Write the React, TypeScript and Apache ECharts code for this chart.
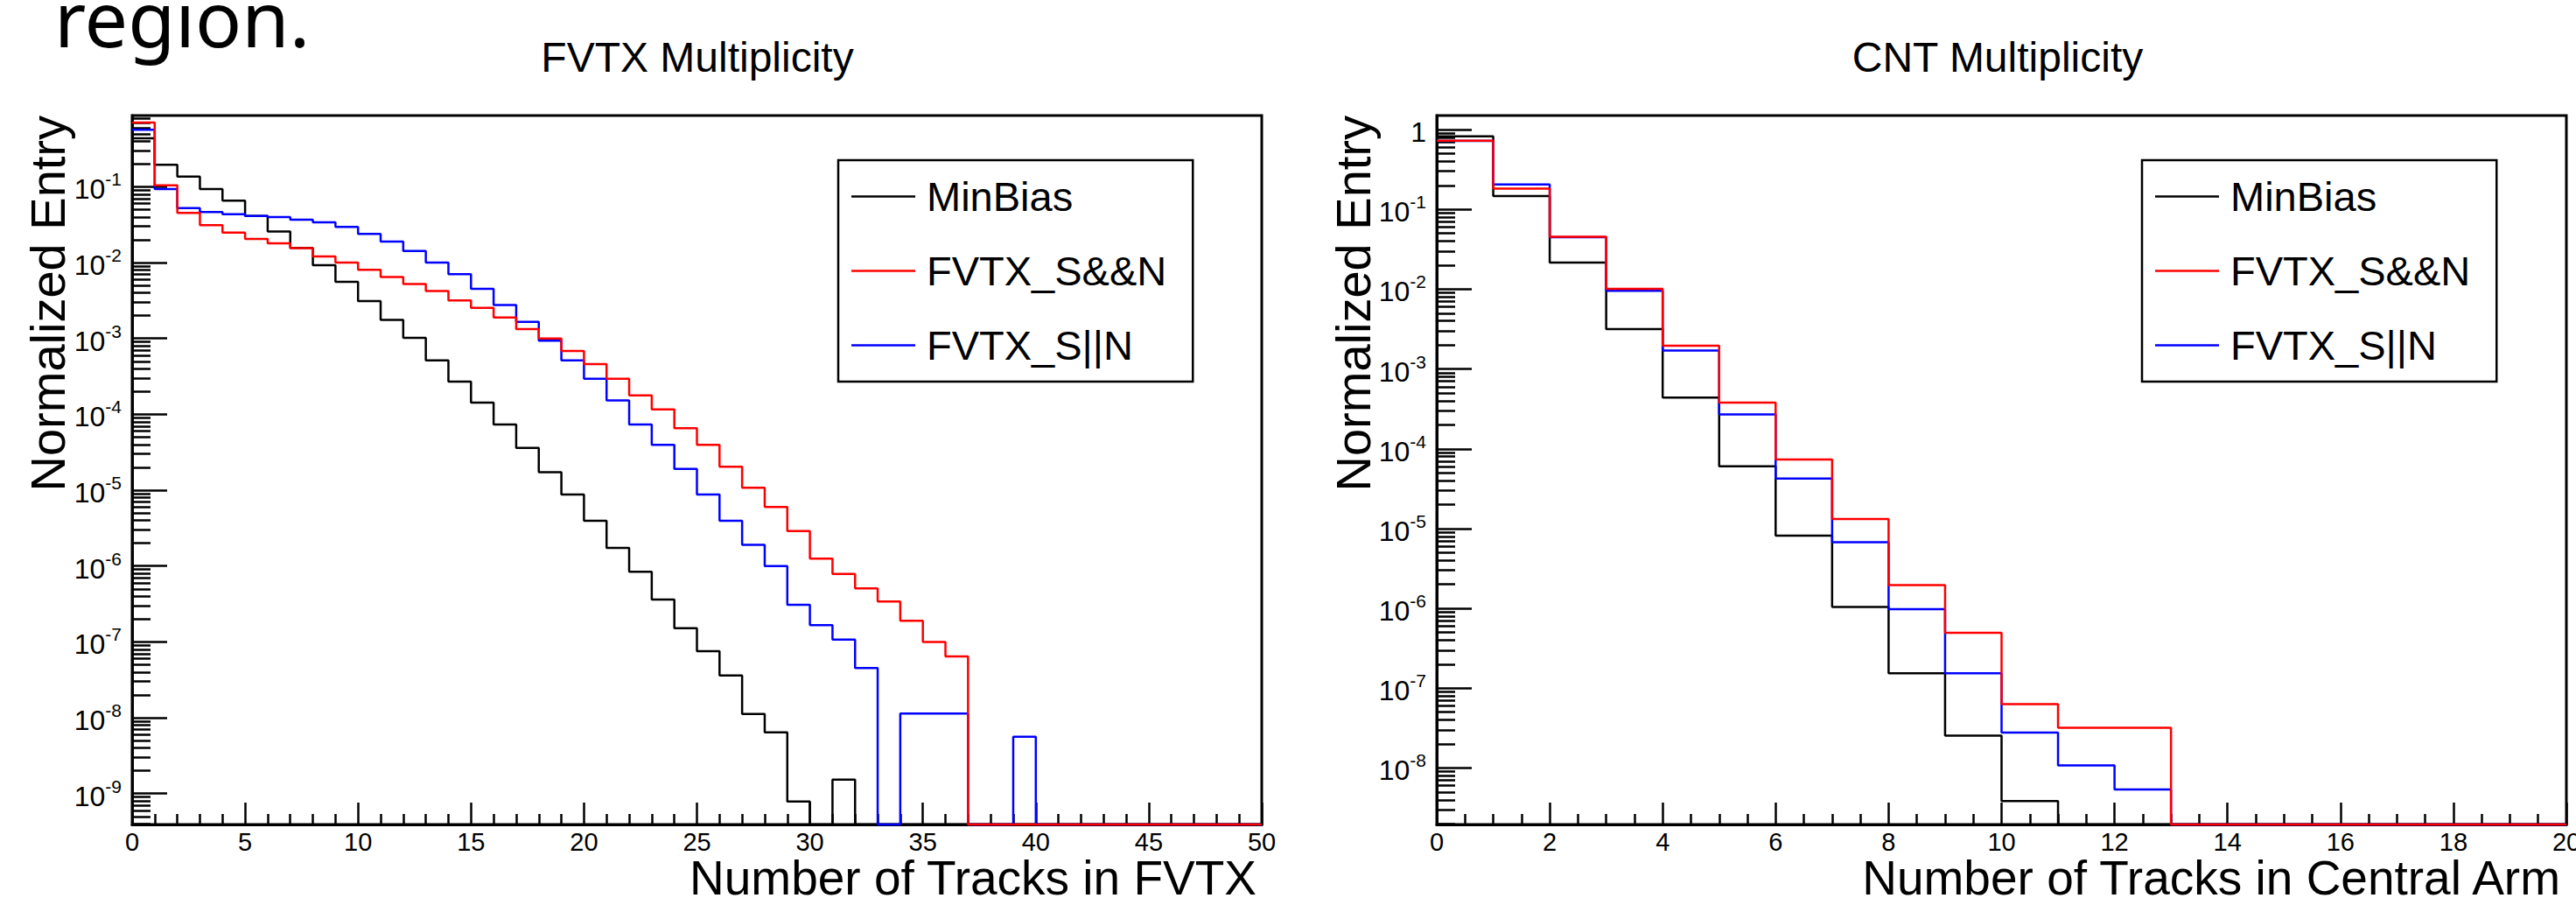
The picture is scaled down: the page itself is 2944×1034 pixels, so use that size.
import React, { useEffect, useRef } from "react";
import * as echarts from "echarts";

const FONT = "'Liberation Sans', Arial, Helvetica, sans-serif";

// ---------- Data (normalized entries per bin, bin width 1, first bin at 0) ----------
const seriesNames = ["MinBias", "FVTX_S&&N", "FVTX_S||N"];

// FVTX multiplicity: 50 bins, 0..50
const fvtxMinBias = [
  0.435, 0.1945, 0.1364, 0.0933, 0.0655, 0.0412, 0.0258, 0.0156, 0.00924, 0.00558,
  0.00311, 0.00176, 0.00102, 5.15e-4, 2.7e-4, 1.43e-4, 7.34e-5, 3.61e-5, 1.73e-5, 8.77e-6,
  3.95e-6, 1.73e-6, 8.39e-7, 3.61e-7, 1.52e-7, 7.55e-8, 3.61e-8, 1.12e-8, 6.42e-9, 7.87e-10,
  0, 1.53e-9, 0, 0, 0, 0, 0, 0, 0, 0,
  0, 0, 0, 0, 0, 0, 0, 0, 0, 0,
];
const fvtxSAndN = [
  0.702, 0.1045, 0.0451, 0.0311, 0.0249, 0.0205, 0.01795, 0.01552, 0.01205, 0.01,
  0.00803, 0.00646, 0.00522, 0.00422, 0.00317, 0.002535, 0.00189, 0.00133, 0.001, 6.84e-4,
  4.59e-4, 2.95e-4, 1.78e-4, 1.16e-4, 6.55e-5, 3.95e-5, 2.04e-5, 1.08e-5, 6.0e-6, 2.9e-6,
  1.25e-6, 7.88e-7, 5.07e-7, 3.4e-7, 1.9e-7, 1.0e-7, 6.43e-8, 0, 0, 0,
  0, 0, 0, 0, 0, 0, 0, 0, 0, 0,
];
const fvtxSOrN = [
  0.563, 0.0933, 0.0524, 0.0464, 0.0435, 0.0412, 0.0398, 0.0368, 0.034, 0.0295,
  0.0239, 0.0189, 0.01425, 0.01, 0.00703, 0.00451, 0.00277, 0.00166, 9.33e-4, 5.15e-4,
  2.95e-4, 1.53e-4, 7.34e-5, 3.95e-5, 1.91e-5, 8.77e-6, 3.95e-6, 1.91e-6, 1.0e-6, 3.08e-7,
  1.66e-7, 1.07e-7, 4.52e-8, 0, 1.14e-8, 1.14e-8, 1.14e-8, 0, 0, 5.62e-9,
  0, 0, 0, 0, 0, 0, 0, 0, 0, 0,
];

// CNT multiplicity: 20 bins, 0..20
const cntMinBias = [
  0.823, 0.1465, 0.0216, 0.00316, 4.37e-4, 6.04e-5, 8.18e-6, 1.04e-6, 1.54e-7, 2.55e-8,
  3.84e-9, 0, 0, 0, 0, 0, 0, 0, 0, 0,
];
const cntSAndN = [
  0.726, 0.182, 0.0454, 0.0101, 0.00196, 3.79e-4, 7.33e-5, 1.32e-5, 1.96e-6, 4.95e-7,
  6.3e-8, 3.2e-8, 3.2e-8, 0, 0, 0, 0, 0, 0, 0,
];
const cntSOrN = [
  0.72, 0.205, 0.0448, 0.00955, 0.0017, 2.7e-4, 4.23e-5, 6.76e-6, 9.8e-7, 1.54e-7,
  2.78e-8, 1.08e-8, 5.37e-9, 0, 0, 0, 0, 0, 0, 0,
];

// Axis ranges and ticks
const fvtxXMax = 50;
const cntXMax = 20;
const fvtxYRange = [3.92e-10, 0.869];
const cntYRange = [1.96e-9, 1.5];
const fvtxYMajor = [1e-9, 1e-8, 1e-7, 1e-6, 1e-5, 1e-4, 1e-3, 1e-2, 1e-1];
const cntYMajor = [1e-8, 1e-7, 1e-6, 1e-5, 1e-4, 1e-3, 1e-2, 1e-1, 1];
const minorMultipliers = [2, 3, 4, 5, 6, 7, 8, 9];

// ---------- helpers ----------
function minorTicks(decades: number[], range: number[]) {
  const out: number[] = [];
  const all = [decades[0] / 10, ...decades];
  all.forEach((d) => {
    minorMultipliers.forEach((m) => {
      const v = d * m;
      if (v >= range[0] && v <= range[1]) out.push(v);
    });
  });
  return out;
}

function histPoints(values: number[], floor: number) {
  const pts: [number, number][] = values.map((v, i) => [i, v > 0 ? v : floor]);
  pts.push([values.length, pts[pts.length - 1][1]]);
  return pts;
}

const logLabel = (v: number) => {
  const e = Math.round(Math.log10(v));
  return e === 0 ? "{m|1}" : `{m|10}{e|${e}}`;
};

const black = "#000000";
const red = "#ff0000";
const blue = "#0000ff";

function buildOption() {
  const grids = [
    { left: 151, top: 132, width: 1291, height: 810 },
    { left: 1642, top: 132, width: 1291, height: 810 },
  ].map((g) => ({
    ...g,
    show: true,
    borderColor: black,
    borderWidth: 3,
    backgroundColor: "transparent",
    containLabel: false,
    outerBoundsMode: "none",
  }));

  const tickLine = { color: black, width: 2.5 };

  const xAxis = (gridIndex: number, max: number, interval: number, split: number) => ({
    type: "value",
    gridIndex,
    position: "bottom",
    min: 0,
    max,
    interval,
    axisLine: { show: true, onZero: false, lineStyle: { color: black, width: 3 } },
    axisTick: { show: true, inside: true, length: 25, lineStyle: tickLine },
    minorTick: { show: true, splitNumber: split, length: 12, lineStyle: tickLine },
    axisLabel: {
      show: true,
      fontSize: 29,
      lineHeight: 29,
      color: black,
      fontFamily: FONT,
      margin: 5,
      showMinLabel: true,
      showMaxLabel: true,
      hideOverlap: false,
    },
    splitLine: { show: false },
    minorSplitLine: { show: false },
  });

  const yMajor = (gridIndex: number, range: number[], majors: number[]) => ({
    type: "log",
    logBase: 10,
    gridIndex,
    position: "left",
    min: range[0],
    max: range[1],
    axisLine: { show: true, onZero: false, lineStyle: { color: black, width: 3 } },
    axisTick: { show: true, inside: true, length: 40, lineStyle: tickLine, customValues: majors },
    axisLabel: {
      show: true,
      customValues: majors,
      formatter: logLabel,
      margin: 12,
      color: black,
      fontFamily: FONT,
      hideOverlap: false,
      rich: {
        m: { fontSize: 32, lineHeight: 38, fontFamily: FONT, color: black, verticalAlign: "bottom" },
        e: { fontSize: 21, lineHeight: 19, fontFamily: FONT, color: black, verticalAlign: "top" },
      },
    },
    splitLine: { show: false },
    minorTick: { show: false },
    minorSplitLine: { show: false },
  });

  const yMinor = (gridIndex: number, range: number[], majors: number[]) => ({
    type: "log",
    logBase: 10,
    gridIndex,
    position: "left",
    min: range[0],
    max: range[1],
    axisLine: { show: false },
    axisTick: {
      show: true,
      inside: true,
      length: 21,
      lineStyle: tickLine,
      customValues: minorTicks(majors, range),
    },
    axisLabel: { show: false },
    splitLine: { show: false },
  });

  const hist = (
    name: string,
    values: number[],
    floor: number,
    color: string,
    xi: number,
    yi: number
  ) => ({
    name,
    type: "line",
    xAxisIndex: xi,
    yAxisIndex: yi,
    step: "end",
    data: histPoints(values, floor),
    symbol: "none",
    showSymbol: false,
    clip: false,
    silent: true,
    z: 3,
    lineStyle: { color, width: 2.5 },
    itemStyle: { color },
  });

  const legend = (left: number) => ({
    show: true,
    orient: "vertical",
    left,
    top: 183,
    icon: "rect",
    itemWidth: 73,
    itemHeight: 2.5,
    itemGap: 38,
    padding: [18, 30, 18, 15],
    borderColor: black,
    borderWidth: 2.5,
    backgroundColor: "#ffffff",
    selectedMode: false,
    data: seriesNames,
    textStyle: { fontSize: 47, lineHeight: 47, color: black, fontFamily: FONT, padding: [0, 0, 0, 8] },
  });

  const txt = (
    text: string,
    x: number,
    y: number,
    fontSize: number,
    align: string,
    family = FONT,
    rotation = 0
  ) => ({
    type: "text",
    x,
    y,
    rotation,
    silent: true,
    style: {
      text,
      fontSize,
      fontFamily: family,
      fill: black,
      align,
      verticalAlign: "middle",
      textAlign: align,
      textVerticalAlign: "middle",
    },
  });

  return {
    animation: false,
    backgroundColor: "#ffffff",
    grid: grids,
    xAxis: [xAxis(0, fvtxXMax, 5, 5), xAxis(1, cntXMax, 2, 4)],
    yAxis: [
      yMajor(0, fvtxYRange, fvtxYMajor),
      yMinor(0, fvtxYRange, fvtxYMajor),
      yMajor(1, cntYRange, cntYMajor),
      yMinor(1, cntYRange, cntYMajor),
    ],
    legend: [legend(958), legend(2448)],
    series: [
      hist(seriesNames[0], fvtxMinBias, fvtxYRange[0], black, 0, 0),
      hist(seriesNames[2], fvtxSOrN, fvtxYRange[0], blue, 0, 0),
      hist(seriesNames[1], fvtxSAndN, fvtxYRange[0], red, 0, 0),
      hist(seriesNames[0], cntMinBias, cntYRange[0], black, 1, 2),
      hist(seriesNames[2], cntSOrN, cntYRange[0], blue, 1, 2),
      hist(seriesNames[1], cntSAndN, cntYRange[0], red, 1, 2),
    ],
    graphic: [
      txt("region.", 62, 20, 88, "left", "'Noto Sans', sans-serif"),
      txt("FVTX Multiplicity", 797, 65, 48, "center"),
      txt("CNT Multiplicity", 2283, 65, 48, "center"),
      txt("Normalized Entry", 54, 132, 56, "right", FONT, Math.PI / 2),
      txt("Normalized Entry", 1546, 132, 56, "right", FONT, Math.PI / 2),
      txt("Number of Tracks in FVTX", 1436, 1003, 55, "right"),
      txt("Number of Tracks in Central Arm", 2926, 1003, 55, "right"),
    ],
  };
}

export default function App() {
  const ref = useRef<HTMLDivElement>(null);
  useEffect(() => {
    if (!ref.current) return;
    const chart = echarts.init(ref.current, null, { renderer: "svg" });
    chart.setOption(buildOption() as any);
    return () => {
      chart.dispose();
    };
  }, []);
  return (
    <div
      ref={ref}
      style={{ position: "absolute", left: 0, top: 0, width: 2944, height: 1034, background: "#fff" }}
    />
  );
}
